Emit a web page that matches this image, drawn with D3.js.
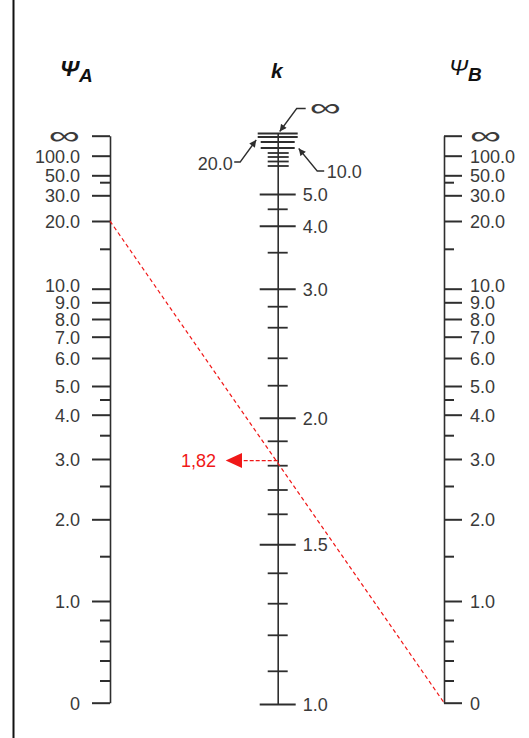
<!DOCTYPE html>
<html>
<head>
<meta charset="utf-8">
<script src="https://cdn.jsdelivr.net/npm/d3@7"></script>
<style>
  html, body { margin: 0; padding: 0; background: #fff; }
  svg { display: block; }
</style>
</head>
<body>
<svg id="chart" width="529" height="738"></svg>
<script>
// ---- data -------------------------------------------------------------
// Psi scale (same graduation on both outer columns)
const psiMajor = [Infinity, 100, 50, 30, 20, 10, 9, 8, 7, 6, 5, 4, 3, 2, 1, 0];
const psiMajorLabels = ["∞", "100.0", "50.0", "30.0", "20.0", "10.0", "9.0", "8.0",
                        "7.0", "6.0", "5.0", "4.0", "3.0", "2.0", "1.0", "0"];
const psiMinor = [40, 15, 4.5, 3.5, 2.5, 1.5, 0.8, 0.6, 0.4, 0.2];

// k scale (centre column)
const kMajor = [5, 4, 3, 2, 1.5, 1];
const kMajorLabels = ["5.0", "4.0", "3.0", "2.0", "1.5", "1.0"];
const kTopLong = [Infinity, 20];
const kTopMedium = [15, 10];
const kTopShort = [9, 8, 7, 6];
const kMinor = [4.5, 3.5, 2.8, 2.6, 2.4, 2.2, 1.9, 1.8, 1.7, 1.6, 1.4, 1.3, 1.2, 1.1];
const kCalloutValues = [Infinity, 20, 10];
const kCalloutLabels = ["∞", "20.0", "10.0"];

// worked example: Psi_A = 20, Psi_B = 0  ->  k = 1.82
const examplePsiA = 20;
const examplePsiB = 0;
const exampleK = 1.82;
const exampleLabel = "1,82";

// ---- scales -----------------------------------------------------------
// Psi is mapped through psi/(psi+1) so that infinity lands on 1;
// the graduation of the printed nomograph is reproduced piecewise.
const tPsi = v => (v === Infinity ? 1 : v / (v + 1));
const psiCalib = [0, 0.2, 0.4, 0.6, 0.8, 1, 1.5, 2, 2.5, 3, 3.5, 4, 4.5, 5, 6, 7, 8, 9, 10,
                  15, 20, 30, 40, 50, 100, Infinity];
const psiCalibY = [702.7, 681, 661, 641.5, 620.5, 601, 556.7, 519.3, 486.5, 459, 435.7, 414.7,
                   400, 386, 358, 336.7, 319, 302.3, 288.7, 249.3, 221, 195.3, 182.7, 175.3,
                   155.7, 135.7];
const psiY = d3.scaleLinear().domain(psiCalib.map(tPsi)).range(psiCalibY);

// k is mapped through 1/k so that infinity lands on 0.
const tK = v => (v === Infinity ? 0 : 1 / v);
const kCalib = [Infinity, 20, 15, 10, 9, 8, 7, 6, 5, 4.5, 4, 3.5, 3, 2.8, 2.6, 2.4, 2.2, 2,
                1.9, 1.8, 1.7, 1.6, 1.5, 1.4, 1.3, 1.2, 1.1, 1];
const kCalibY = [133.5, 137, 142, 148, 153, 157, 161.5, 166, 194, 209.3, 225.7, 252.7, 288.7,
                 306.7, 327.7, 358.3, 385.7, 417.7, 441.3, 465.7, 490, 514.3, 544.3, 573.3,
                 603.7, 635.3, 671.3, 704];
const kY = d3.scaleLinear().domain(kCalib.map(tK)).range(kCalibY);

const xA = 110, xK = 277.7, xB = 444;
const ink = "#2e2e2e", textInk = "#3a3a3a";
const labelFont = "'Liberation Sans', Arial, sans-serif";

const svg = d3.select("#chart");

// frame line on the left
svg.append("line")
  .attr("x1", 13.5).attr("x2", 13.5).attr("y1", 0).attr("y2", 738)
  .attr("stroke", "#111").attr("stroke-width", 2);

const defs = svg.append("defs");
defs.append("marker")
  .attr("id", "head").attr("markerUnits", "userSpaceOnUse")
  .attr("viewBox", "0 0 10 10").attr("refX", 10).attr("refY", 5)
  .attr("markerWidth", 8).attr("markerHeight", 7).attr("orient", "auto")
  .append("path").attr("d", "M0,0L10,5L0,10Z").attr("fill", ink);

// ---- titles -----------------------------------------------------------
function title(x, y, main, sub, mainWeight, mainSize) {
  const t = svg.append("text").attr("x", x).attr("y", y)
    .attr("font-family", labelFont).attr("font-style", "italic").attr("fill", "#111");
  t.append("tspan").text(main).attr("font-size", mainSize).attr("font-weight", mainWeight);
  if (sub) t.append("tspan").text(sub).attr("font-size", 19).attr("font-weight", "bold").attr("dy", 5.5);
}
title(60, 76, "Ψ", "A", "bold", 23);
title(271, 77.5, "k", null, "bold", 21);
title(449, 75, "Ψ", "B", "normal", 23);

// ---- axis styling helpers ---------------------------------------------
function styleAxis(g) {
  g.select(".domain").attr("stroke", ink).attr("stroke-width", 1.6);
  g.selectAll(".tick line").attr("stroke", ink).attr("stroke-width", 2);
  g.selectAll(".tick text")
    .attr("font-family", labelFont).attr("font-size", 18).attr("fill", textInk)
    .attr("dy", "0.36em");
}
function styleInfinity(g, anchor) {
  g.selectAll(".tick text").filter(function () { return this.textContent === "∞"; })
    .each(function () {
      const el = d3.select(this);
      const x = +el.attr("x");
      el.attr("x", 0).attr("dy", "0.3em").attr("font-size", 25)
        .attr("transform", `translate(${x},0) scale(1.75,1)`)
        .attr("text-anchor", anchor);
    });
  g.selectAll(".tick text").filter(function () { return this.textContent === "10.0"; })
    .attr("dy", "0.14em");
}

// short unlabeled graduation marks, drawn in their own layer
const minorLayer = svg.append("g").attr("class", "minor-layer");
function minorTicks(values, scale, t, x1, x2, w) {
  minorLayer.append("g").selectAll("line").data(values).join("line")
    .attr("x1", x1).attr("x2", x2)
    .attr("y1", d => scale(t(d))).attr("y2", d => scale(t(d)))
    .attr("stroke", ink).attr("stroke-width", w);
}

// ---- Psi_A column ------------------------------------------------------
const gA = svg.append("g").attr("transform", `translate(${xA},0)`);
gA.call(d3.axisLeft(psiY)
  .tickValues(psiMajor.map(tPsi))
  .tickFormat((d, i) => psiMajorLabels[i])
  .tickSize(18).tickSizeOuter(0).tickPadding(12));
styleAxis(gA);
styleInfinity(gA, "end");
minorTicks(psiMinor, psiY, tPsi, xA - 10, xA, 2);

// ---- Psi_B column ------------------------------------------------------
const gB = svg.append("g").attr("transform", `translate(${xB},0)`);
gB.call(d3.axisRight(psiY)
  .tickValues(psiMajor.map(tPsi))
  .tickFormat((d, i) => psiMajorLabels[i])
  .tickSize(18).tickSizeOuter(0).tickPadding(8));
styleAxis(gB);
styleInfinity(gB, "start");
minorTicks(psiMinor, psiY, tPsi, xB, xB + 10, 2);

// ---- k column ----------------------------------------------------------
const gK = svg.append("g").attr("transform", `translate(${xK},0)`);
gK.call(d3.axisRight(kY)
  .tickValues(kMajor.map(tK))
  .tickFormat((d, i) => kMajorLabels[i])
  .tickSize(18).tickSizeOuter(0).tickPadding(7));
styleAxis(gK);
gK.selectAll(".tick line").attr("x1", -18);

minorTicks(kMinor, kY, tK, xK - 10, xK + 10, 1.8);
minorTicks(kTopLong, kY, tK, xK - 20, xK + 20, 1.8);
minorTicks(kTopMedium, kY, tK, xK - 17, xK + 17, 1.8);
minorTicks(kTopShort, kY, tK, xK - 10, xK + 11, 1.8);

// call-outs for the crowded top of the k scale
const calloutGeom = [
  { tip: [2, -2],   elbow: [17, -23], end: [26, -23], anchor: "start", tx: 4,  ty: 0, size: 25, sx: 1.75 },
  { tip: [-21.5, 3], elbow: [-16, 22], end: [-22, 22], anchor: "end",   tx: -1.5, ty: 2, size: 18, sx: 1 },
  { tip: [21, 0.5], elbow: [18.5, 22.5], end: [25.5, 22.5], anchor: "start", tx: 2.5, ty: 0.5, size: 18, sx: 1 }
];
kCalloutValues.forEach((v, i) => {
  const g = calloutGeom[i];
  const y0 = kY(tK(v));
  const tip = [xK + g.tip[0], y0 + g.tip[1]];
  const elbow = [tip[0] + g.elbow[0], tip[1] + g.elbow[1]];
  const end = [elbow[0] + (g.end[0] - g.elbow[0]), elbow[1]];
  svg.append("path")
    .attr("d", d3.line()([end, elbow, tip]))
    .attr("fill", "none").attr("stroke", ink).attr("stroke-width", 1.3)
    .attr("marker-end", "url(#head)");
  const lx = end[0] + g.tx, ly = end[1] + g.ty;
  svg.append("text")
    .attr("transform", `translate(${lx},${ly}) scale(${g.sx},1)`)
    .attr("text-anchor", g.anchor)
    .attr("dy", kCalloutLabels[i] === "∞" ? "0.3em" : "0.36em")
    .attr("font-family", labelFont).attr("font-size", g.size).attr("fill", textInk)
    .text(kCalloutLabels[i]);
});

// ---- worked example --------------------------------------------------
const red = "#f01818";
svg.append("line")
  .attr("x1", xA).attr("y1", psiY(tPsi(examplePsiA)))
  .attr("x2", xB).attr("y2", psiY(tPsi(examplePsiB)))
  .attr("stroke", red).attr("stroke-width", 1.2).attr("stroke-dasharray", "4,3");

const yk = kY(tK(exampleK));
svg.append("line")
  .attr("x1", xK).attr("x2", 242).attr("y1", yk).attr("y2", yk)
  .attr("stroke", red).attr("stroke-width", 1.2).attr("stroke-dasharray", "4,2");
svg.append("path")
  .attr("d", `M225.7,${yk}L242,${yk - 7.5}L242,${yk + 7.5}Z`)
  .attr("fill", red);
svg.append("text")
  .attr("x", 216).attr("y", yk).attr("dy", "0.36em")
  .attr("text-anchor", "end")
  .attr("font-family", labelFont).attr("font-size", 18).attr("fill", red)
  .text(exampleLabel);
</script>
</body>
</html>
